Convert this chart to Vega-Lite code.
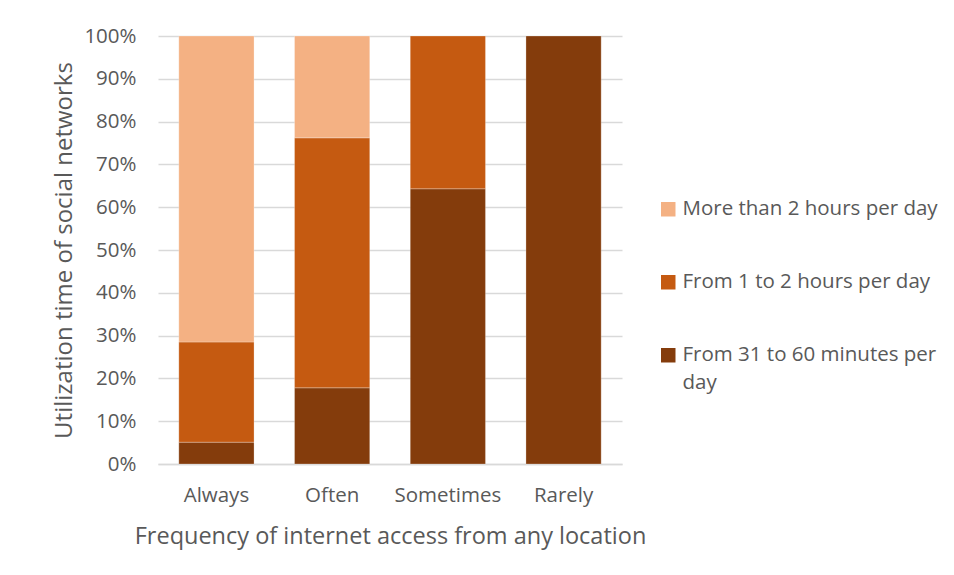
{
  "$schema": "https://vega.github.io/schema/vega-lite/v6.json",
  "width": 464,
  "height": 428,
  "padding": {"left": 52, "top": 26, "right": 5, "bottom": 5},
  "autosize": {"type": "pad"},
  "background": "white",
  "data": {
    "values": [
      {"freq": "Always", "time": "From 31 to 60 minutes per day", "k": 1, "share": 0.051},
      {"freq": "Always", "time": "From 1 to 2 hours per day", "k": 2, "share": 0.234},
      {"freq": "Always", "time": "More than 2 hours per day", "k": 3, "share": 0.715},
      {"freq": "Often", "time": "From 31 to 60 minutes per day", "k": 1, "share": 0.178},
      {"freq": "Often", "time": "From 1 to 2 hours per day", "k": 2, "share": 0.584},
      {"freq": "Often", "time": "More than 2 hours per day", "k": 3, "share": 0.238},
      {"freq": "Sometimes", "time": "From 31 to 60 minutes per day", "k": 1, "share": 0.643},
      {"freq": "Sometimes", "time": "From 1 to 2 hours per day", "k": 2, "share": 0.357},
      {"freq": "Rarely", "time": "From 31 to 60 minutes per day", "k": 1, "share": 1.0}
    ]
  },
  "mark": {"type": "bar", "stroke": "white", "strokeWidth": 0.5, "strokeOpacity": 0.5},
  "encoding": {
    "x": {
      "field": "freq", "type": "nominal",
      "sort": ["Always", "Often", "Sometimes", "Rarely"],
      "scale": {"paddingInner": 0.35, "paddingOuter": 0.18},
      "axis": {
        "title": "Frequency of internet access from any location",
        "labelAngle": 0, "labelFontSize": 20.5, "labelColor": "#595959", "labelPadding": 21,
        "titleFontSize": 23.5, "titleColor": "#595959", "titleFontWeight": "normal", "titlePadding": 19,
        "ticks": false, "domainColor": "#D9D9D9", "domainWidth": 1.5
      }
    },
    "y": {
      "field": "share", "type": "quantitative", "stack": "zero",
      "scale": {"domain": [0, 1]},
      "axis": {
        "title": "Utilization time of social networks",
        "format": ".0%", "values": [0, 0.1, 0.2, 0.3, 0.4, 0.5, 0.6, 0.7, 0.8, 0.9, 1],
        "labelOverlap": false,
        "labelFontSize": 20.5, "labelColor": "#595959", "labelPadding": 22,
        "titleFontSize": 24, "titleColor": "#595959", "titleFontWeight": "normal", "titlePadding": 7,
        "ticks": false, "domain": false, "gridColor": "#D9D9D9", "gridWidth": 1.5
      }
    },
    "color": {
      "field": "time", "type": "nominal",
      "sort": ["More than 2 hours per day", "From 1 to 2 hours per day", "From 31 to 60 minutes per day"],
      "scale": {
        "domain": ["More than 2 hours per day", "From 1 to 2 hours per day", "From 31 to 60 minutes per day"],
        "range": ["#F4B183", "#C55A11", "#843C0C"]
      },
      "legend": {
        "title": null, "symbolType": "square", "symbolSize": 210, "symbolStrokeWidth": 0,
        "labelFontSize": 20.5, "labelColor": "#595959", "rowPadding": 52,
        "labelLimit": 320, "orient": "none", "legendX": 500, "legendY": 163, "padding": 0,
        "labelExpr": "datum.label == 'From 31 to 60 minutes per day' ? ['From 31 to 60 minutes per', 'day'] : datum.label"
      }
    },
    "order": {"field": "k", "type": "quantitative"}
  },
  "config": {
    "font": "Open Sans",
    "view": {"stroke": null},
    "legend": {"labelBaseline": "middle"},
    "style": {"guide-label": {"lineHeight": 28}}
  }
}
